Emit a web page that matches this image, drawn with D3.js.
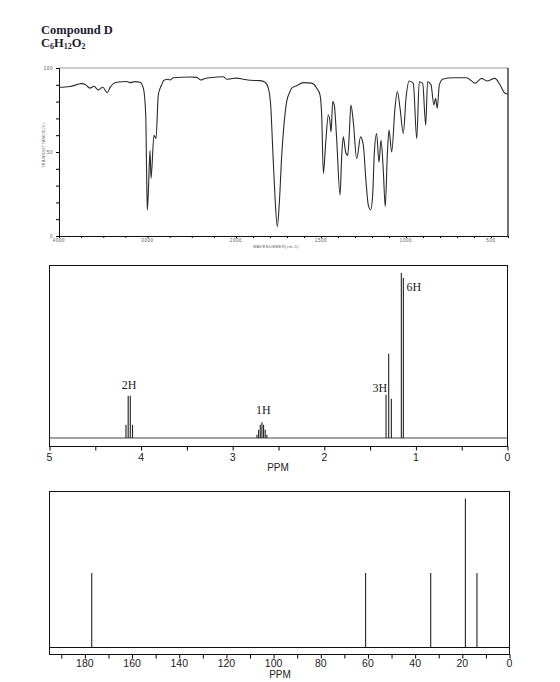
<!DOCTYPE html>
<html>
<head>
<meta charset="utf-8">
<script src="https://cdn.jsdelivr.net/npm/d3@7"></script>
<style>
  body { margin: 0; background: #fff; }
  svg { display: block; }
</style>
</head>
<body>
<div id="chart"></div>
<script>
// IR spectrum (wavenumber cm-1, transmittance %)
var irWavenumber = [4000,3876,3744,3706,3650,3605,3556,3506,3454,3424,3348,3235,3198,3141,3085,3047,3020,3009,3002,2986,2972,2960,2927,2904,2878,2840,2821,2783,2746,2708,2520,2444,2399,2350,2218,2143,2105,2068,1996,1957,1918,1859,1829,1810,1796,1784,1771,1757,1745,1731,1718,1702,1682,1672,1643,1604,1555,1525,1506,1496,1486,1472,1457,1447,1441,1431,1422,1408,1388,1378,1369,1355,1343,1335,1324,1310,1290,1267,1251,1235,1222,1208,1196,1187,1173,1159,1147,1134,1122,1110,1100,1084,1065,1051,1035,1016,1000,981,957,937,922,902,884,873,853,836,826,816,804,781,722,643,594,555,525,477,447,418,400];
var irTransmittance = [88.5,89,90.7,90.3,88,89.1,87,88.5,85.3,88.3,91.5,92,91.3,91.9,91.5,88,72,34,15.5,32.3,51,34.3,60,58,84,90,92.3,93.3,92.9,94.2,94.6,94.4,92.9,93.8,94.6,94.8,93.3,93.5,94,93.3,92.7,92.5,91.5,88,78,52,24,5.6,20,48,66,80,86,88,89.5,91.3,91,88,84,72,37.3,56,72,68,62,80,78,58,24.4,48,59,50,48,58,78,68,46,59,54,32,18.5,15.5,24.4,48,61,44,57,40,17.5,48,63,50,76,86,76,61,82,92.3,90.9,58,91.8,90.9,66,91.8,90,78,82,76,90,93.5,94.2,94.2,91,93.8,92.3,93.8,90,85,84.5];
var irTickLabels = [4000, 3000, 2000, 1500, 1000, 500];

// 1H NMR lines (ppm, relative height)
var hPpm = [4.165,4.141,4.118,4.094, 2.735,2.717,2.699,2.681,2.663,2.645,2.627, 1.326,1.297,1.268, 1.159,1.137];
var hHeight = [8,25.6,25.6,8, 2,5,8,9.5,8,5,2, 26.2,51.1,23.8, 100,97];
var hLabels = ["2H", "1H", "3H", "6H"];
var hLabelPpm = [4.13, 2.666, 1.395, 1.023];
var hLabelHeight = [30, 14.5, 28, 89];
var hTicks = [5, 4, 3, 2, 1, 0];

// 13C NMR lines (ppm, relative height)
var cPpm = [177.1, 61.0, 33.4, 18.7, 13.8];
var cHeight = [1, 1, 1, 2, 1];
var cTicks = [180, 160, 140, 120, 100, 80, 60, 40, 20, 0];

var W = 560, H = 682;
var svg = d3.select("#chart").append("svg")
  .attr("width", W).attr("height", H);

var ink = "#1f2133";

// title
svg.append("text")
  .attr("x", 41).attr("y", 34)
  .attr("font-family", "Liberation Serif, serif")
  .attr("font-weight", "bold").attr("font-size", 12.5)
  .attr("fill", ink)
  .text("Compound D");
var formula = svg.append("text")
  .attr("x", 41).attr("y", 46.5)
  .attr("font-family", "Liberation Serif, serif")
  .attr("font-weight", "bold").attr("font-size", 12.5)
  .attr("fill", ink);
[["C", false], ["6", true], ["H", false], ["12", true], ["O", false], ["2", true]].forEach(function(p){
  formula.append("tspan")
    .attr("font-size", p[1] ? 8 : 12.5)
    .attr("dy", p[1] ? 2.5 : -2.5)
    .text(p[0]);
});
formula.select("tspan").attr("dy", 0);

// ---------------- IR ----------------
var irX = d3.scaleLinear().domain([4000, 2000, 400]).range([59, 236, 508]);
var irY = d3.scaleLinear().domain([0, 100]).range([236, 68]);
var ir = svg.append("g");

ir.append("line").attr("x1", 59).attr("x2", 508).attr("y1", irY(100)).attr("y2", irY(100))
  .attr("stroke", "#999").attr("stroke-width", 1);
ir.append("line").attr("x1", 508).attr("x2", 508).attr("y1", irY(100)).attr("y2", irY(0))
  .attr("stroke", "#111").attr("stroke-width", 1.2);

var irYAxis = ir.append("g").attr("transform", "translate(59,0)")
  .call(d3.axisLeft(irY).tickValues(d3.range(0, 101, 10)).tickSize(3).tickFormat(function(d){
    return d % 50 === 0 ? d : "";
  }));
irYAxis.select(".domain").attr("stroke", "#111");
irYAxis.selectAll("text").attr("font-size", 4.5).attr("font-family", "Liberation Sans, sans-serif")
  .attr("fill", "#555").attr("letter-spacing", 0.6);

var irMinor = d3.range(4000, 2000, -250).concat(d3.range(2000, 399, -100));
var irXAxis = ir.append("g").attr("transform", "translate(0,236)")
  .call(d3.axisBottom(irX).tickValues(irMinor).tickSize(2).tickFormat(""));
irXAxis.select(".domain").attr("stroke", "#111");
ir.append("g").selectAll("text").data(irTickLabels).enter().append("text")
  .attr("x", function(d){ return irX(d); }).attr("y", 242)
  .attr("text-anchor", "middle")
  .attr("font-size", 4.5).attr("font-family", "Liberation Sans, sans-serif")
  .attr("fill", "#555").attr("letter-spacing", 0.6)
  .text(function(d){ return d; });
ir.append("text").attr("x", 276).attr("y", 248).attr("text-anchor", "middle")
  .attr("font-size", 3.8).attr("font-family", "Liberation Sans, sans-serif")
  .attr("fill", "#555").attr("letter-spacing", 0.5)
  .text("WAVENUMBER(cm-1)");
ir.append("text").attr("transform", "translate(45,145) rotate(-90)").attr("text-anchor", "middle")
  .attr("font-size", 3.8).attr("font-family", "Liberation Sans, sans-serif")
  .attr("fill", "#555").attr("letter-spacing", 0.5)
  .text("TRANSMITTANCE(%)");

var irLine = d3.line()
  .x(function(d, i){ return irX(irWavenumber[i]); })
  .y(function(d, i){ return irY(irTransmittance[i]); })
  .curve(d3.curveMonotoneX);
ir.append("path").datum(irWavenumber)
  .attr("d", irLine)
  .attr("fill", "none").attr("stroke", "#2a2a2a").attr("stroke-width", 1.1);

// ---------------- 1H NMR ----------------
var hX = d3.scaleLinear().domain([5, 0]).range([49.5, 507.5]);
var hY = d3.scaleLinear().domain([0, 100]).range([438, 273]);
var hn = svg.append("g");
hn.append("rect").attr("x", 49.5).attr("y", 265.5).attr("width", 458).attr("height", 181)
  .attr("fill", "none").attr("stroke", "#111").attr("stroke-width", 1);
hn.append("line").attr("x1", 49.5).attr("x2", 507.5).attr("y1", hY(0)).attr("y2", hY(0))
  .attr("stroke", "#444").attr("stroke-width", 1);
hn.append("g").selectAll("line").data(hPpm).enter().append("line")
  .attr("x1", function(d){ return hX(d); }).attr("x2", function(d){ return hX(d); })
  .attr("y1", hY(0)).attr("y2", function(d, i){ return hY(hHeight[i]); })
  .attr("stroke", "#222").attr("stroke-width", 1.1);
var hAxis = hn.append("g").attr("transform", "translate(0,446.5)")
  .call(d3.axisBottom(hX).tickValues(d3.range(0, 5.01, 0.5)).tickSize(4).tickFormat(""));
hAxis.select(".domain").remove();
hn.append("g").selectAll("text").data(hTicks).enter().append("text")
  .attr("x", function(d){ return hX(d); }).attr("y", 461)
  .attr("text-anchor", "middle")
  .attr("font-size", 10.5).attr("font-family", "Liberation Sans, sans-serif").attr("fill", "#222")
  .text(function(d){ return d; });
hn.append("text").attr("x", 278).attr("y", 470.5).attr("text-anchor", "middle")
  .attr("font-size", 10).attr("font-family", "Liberation Sans, sans-serif").attr("fill", "#222")
  .text("PPM");
hn.append("g").selectAll("text").data(hLabels).enter().append("text")
  .attr("x", function(d, i){ return hX(hLabelPpm[i]); })
  .attr("y", function(d, i){ return hY(hLabelHeight[i]); })
  .attr("text-anchor", "middle")
  .attr("font-size", 12).attr("font-family", "Liberation Serif, serif").attr("fill", "#222")
  .text(function(d){ return d; });

// ---------------- 13C NMR ----------------
var cX = d3.scaleLinear().domain([195, 0]).range([49.5, 509.5]);
var cY = d3.scaleLinear().domain([0, 2]).range([647.5, 498.5]);
var cn = svg.append("g");
cn.append("rect").attr("x", 49.5).attr("y", 491.5).attr("width", 460).attr("height", 163)
  .attr("fill", "none").attr("stroke", "#111").attr("stroke-width", 1);
cn.append("line").attr("x1", 49.5).attr("x2", 509.5).attr("y1", cY(0)).attr("y2", cY(0))
  .attr("stroke", "#111").attr("stroke-width", 1);
cn.append("g").selectAll("line").data(cPpm).enter().append("line")
  .attr("x1", function(d){ return cX(d); }).attr("x2", function(d){ return cX(d); })
  .attr("y1", cY(0)).attr("y2", function(d, i){ return cY(cHeight[i]); })
  .attr("stroke", "#222").attr("stroke-width", 1.1);
var cAxis = cn.append("g").attr("transform", "translate(0,654.5)")
  .call(d3.axisBottom(cX).tickValues(d3.range(0, 191, 10)).tickSize(4).tickFormat(""));
cAxis.select(".domain").remove();
cn.append("g").selectAll("text").data(cTicks).enter().append("text")
  .attr("x", function(d){ return cX(d); }).attr("y", 666.5)
  .attr("text-anchor", "middle")
  .attr("font-size", 10.5).attr("font-family", "Liberation Sans, sans-serif").attr("fill", "#222")
  .text(function(d){ return d; });
cn.append("text").attr("x", 280).attr("y", 677.5).attr("text-anchor", "middle")
  .attr("font-size", 10).attr("font-family", "Liberation Sans, sans-serif").attr("fill", "#222")
  .text("PPM");
</script>
</body>
</html>
